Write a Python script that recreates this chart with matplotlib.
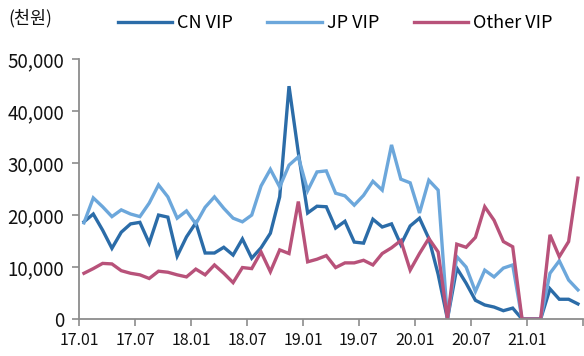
import numpy as np
import matplotlib
matplotlib.use("Agg")
import matplotlib.pyplot as plt
from matplotlib.ticker import FuncFormatter

plt.rcParams['font.family'] = ['Noto Sans CJK KR', 'DejaVu Sans']

# monthly VIP sales, 2017.01 - 2021.06 (thousand KRW)
months = [f"{y:02d}.{m:02d}" for y in range(17, 22) for m in range(1, 13)][:54]

cn_vip = [18700, 20200, 17100, 13600, 16700, 18300, 18600, 14600, 20000, 19600,
          12100, 15800, 18500, 12700, 12700, 13800, 12300, 15400, 11700, 13700,
          16500, 23500, 44800, 32000, 20400, 21700, 21600, 17500, 18800, 14800,
          14600, 19200, 17700, 18300, 14300, 17900, 19400, 15500, 8600, 0,
          9800, 6900, 3600, 2700, 2300, 1600, 2100, 0, 0, 0,
          5800, 3800, 3800, 2900]

jp_vip = [18500, 23300, 21600, 19700, 21000, 20200, 19700, 22300, 25800, 23500,
          19400, 20800, 18300, 21500, 23500, 21300, 19400, 18700, 20000, 25600,
          28800, 25400, 29600, 31200, 24700, 28300, 28500, 24200, 23700, 21900,
          23800, 26500, 24800, 33500, 26900, 26200, 20400, 26700, 24800, 0,
          12000, 10000, 5300, 9400, 8100, 9800, 10400, 0, 0, 0,
          8800, 11200, 7500, 5600]

other_vip = [8800, 9700, 10700, 10600, 9300, 8800, 8500, 7800, 9200, 9000,
             8500, 8100, 9600, 8500, 10400, 8800, 7000, 9900, 9700, 12900,
             9100, 13300, 12600, 22600, 11000, 11500, 12200, 9900, 10800, 10800,
             11300, 10400, 12600, 13700, 15100, 9400, 12600, 15500, 12900, 0,
             14400, 13800, 15700, 21600, 19000, 14900, 13900, 0, 0, 0,
             16200, 12000, 14900, 27100]

series = [("CN VIP", cn_vip, "#2B6CA8"),
          ("JP VIP", jp_vip, "#6CA7DB"),
          ("Other VIP", other_vip, "#B8527A")]

fig = plt.figure(figsize=(5.84, 3.56), dpi=100)
ax = fig.add_axes([0.1358, 0.1039, 0.8618, 0.730])

x = np.arange(len(months))
for name, vals, color in series:
    ax.plot(x, vals, color=color, lw=2.4, label=name, solid_joinstyle="miter")

ax.set_xlim(-0.5, len(months) - 0.5)
ax.set_ylim(0, 50000)

tick_pos = list(range(0, len(months), 6)) + [len(months)]
ax.set_xticks([p - 0.5 for p in tick_pos])
ax.set_xticklabels([months[p] if p < len(months) else "" for p in tick_pos])
ax.set_yticks(range(0, 50001, 10000))
ax.yaxis.set_major_formatter(FuncFormatter(lambda v, _: f"{int(v):,}"))

for side in ("top", "right"):
    ax.spines[side].set_visible(False)
for side in ("left", "bottom"):
    ax.spines[side].set_color("#8c8c8c")
    ax.spines[side].set_linewidth(1.3)
ax.tick_params(axis="both", direction="out", length=5, width=1.2,
               color="#8c8c8c", labelcolor="#111111")
ax.tick_params(axis="x", labelsize=11.5, pad=4)
ax.tick_params(axis="y", labelsize=13.5, pad=6)

fig.text(0.015, 0.948, "(천원)", fontsize=12.5, color="#111111", va="center")

fig.legend(loc="center", bbox_to_anchor=(0.574, 0.935), ncol=3, frameon=False,
           fontsize=13, handlelength=3.0, handletextpad=0.3, columnspacing=1.9)

fig.savefig("out.png", dpi=100)
